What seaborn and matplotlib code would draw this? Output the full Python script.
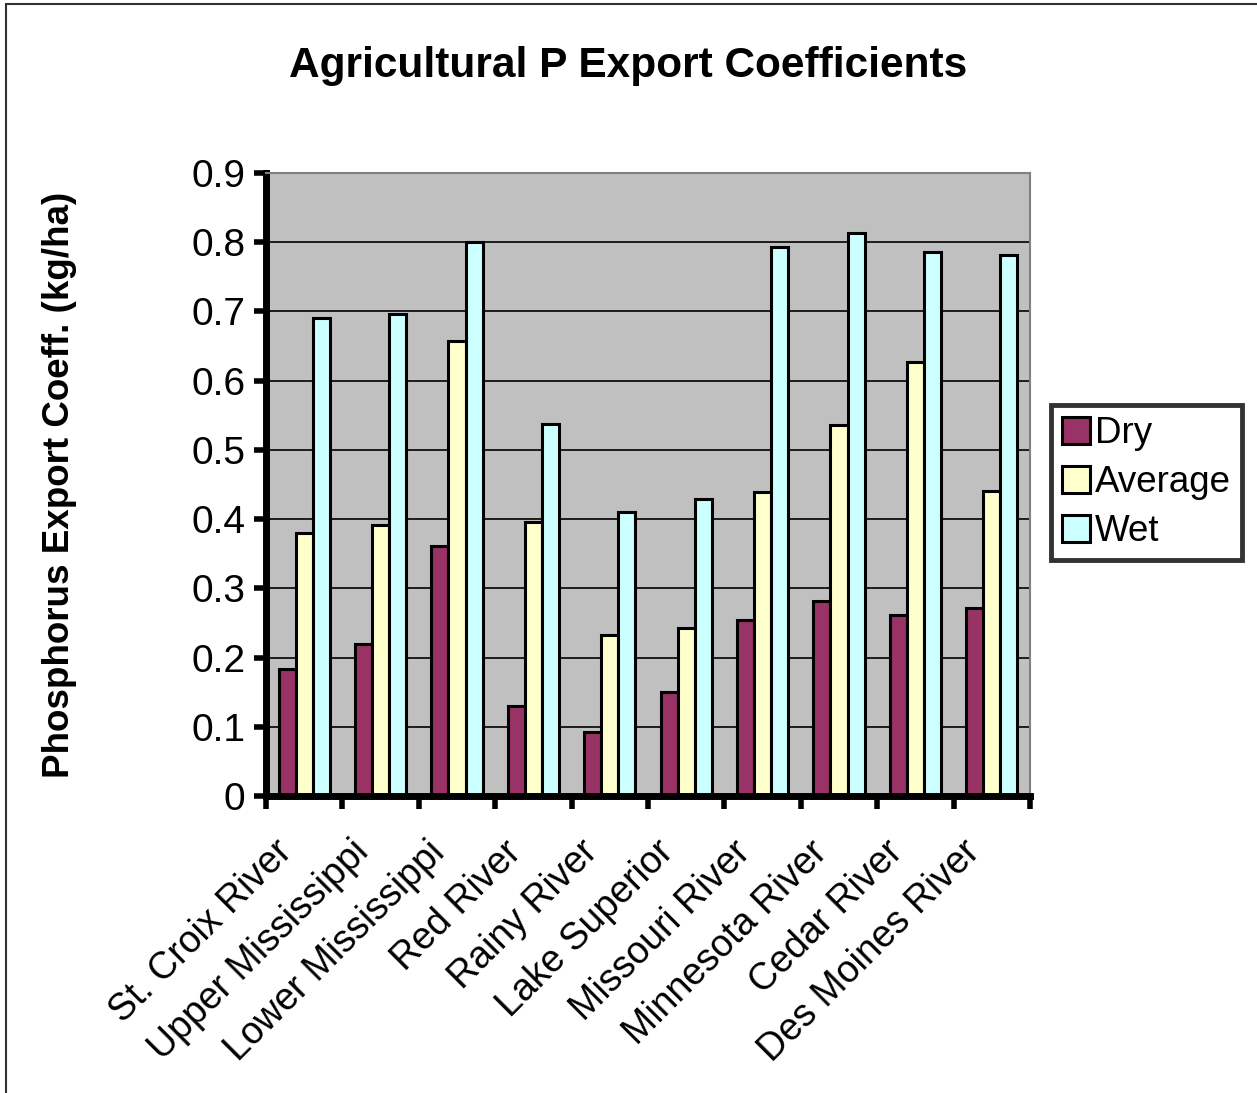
import pandas as pd
import seaborn as sns
import matplotlib.pyplot as plt
from matplotlib.lines import Line2D

# Data
rivers = ['St. Croix River', 'Upper Mississippi', 'Lower Mississippi', 'Red River',
          'Rainy River', 'Lake Superior', 'Missouri River', 'Minnesota River',
          'Cedar River', 'Des Moines River']
dry = [0.183, 0.220, 0.361, 0.130, 0.092, 0.150, 0.254, 0.282, 0.261, 0.272]
average = [0.380, 0.391, 0.657, 0.396, 0.233, 0.243, 0.439, 0.536, 0.627, 0.441]
wet = [0.690, 0.696, 0.801, 0.537, 0.411, 0.429, 0.793, 0.813, 0.786, 0.782]
conditions = ['Dry', 'Average', 'Wet']
y_ticks = [0, 0.1, 0.2, 0.3, 0.4, 0.5, 0.6, 0.7, 0.8, 0.9]
y_tick_labels = ['0', '0.1', '0.2', '0.3', '0.4', '0.5', '0.6', '0.7', '0.8', '0.9']

df = pd.DataFrame({
    'River': rivers * 3,
    'Condition': [c for c in conditions for _ in rivers],
    'Value': dry + average + wet,
})

sns.set_theme(style='white')
plt.rcParams['font.family'] = ['Liberation Sans', 'DejaVu Sans']
plt.rcParams['text.color'] = 'black'
plt.rcParams['axes.labelcolor'] = 'black'
plt.rcParams['xtick.color'] = 'black'
plt.rcParams['ytick.color'] = 'black'

fig = plt.figure(figsize=(12.57, 10.93), dpi=100)
ax = fig.add_axes([0.2116, 0.2717, 0.6078, 0.570])

palette = {'Dry': '#993366', 'Average': '#FFFFCC', 'Wet': '#CCFFFF'}
sns.barplot(data=df, x='River', y='Value', hue='Condition', palette=palette,
            edgecolor='black', linewidth=2.2, width=0.67, ax=ax, saturation=1)

ax.set_facecolor('#C0C0C0')
ax.set_ylim(0, 0.9)
ax.set_xlim(-0.5, len(rivers) - 0.5)
ax.set_yticks(y_ticks)
ax.set_yticklabels(y_tick_labels, fontsize=28, color='black')
ax.yaxis.grid(True, color='black', linewidth=1.2)
ax.set_axisbelow(True)

# x ticks at the group boundaries, labels at the group centres
ax.set_xticks([i - 0.5 for i in range(len(rivers) + 1)])
ax.set_xticklabels([])
ax.tick_params(axis='x', direction='out', length=9, width=4, color='black', bottom=True)
ax.tick_params(axis='y', direction='out', length=9, width=4, color='black', left=True, pad=6)
for i, name in enumerate(rivers):
    ax.text(i - 0.40, -0.055, name, rotation=45, ha='right', va='top',
            rotation_mode='anchor', fontsize=27, color='black', transform=ax.transData)

for side in ['left', 'bottom']:
    ax.spines[side].set_linewidth(5)
    ax.spines[side].set_color('black')
for side in ['top', 'right']:
    ax.spines[side].set_linewidth(1.5)
    ax.spines[side].set_color('#808080')

ax.set_xlabel('')
ax.set_ylabel('Phosphorus Export Coeff. (kg/ha)', fontsize=26.5, fontweight='bold')
ax.yaxis.set_label_coords(-0.247, 0.5)

fig.suptitle('Agricultural P Export Coefficients', fontsize=30.5, fontweight='bold',
             x=0.50, y=0.958, color='black')

ax.legend_.remove()
leg = fig.legend(*ax.get_legend_handles_labels(), loc='upper left',
                 bbox_to_anchor=(1051 / 1257, 1 - 405 / 1093), fontsize=26.5, frameon=True,
                 fancybox=False, edgecolor='black', handlelength=0.75, handleheight=0.75,
                 handletextpad=0.15, borderpad=0.3, labelspacing=0.38, borderaxespad=0)
leg.get_frame().set_linewidth(3.5)

# thin border on the left and top edges of the figure
fig.lines.append(Line2D([0.005, 0.005], [0, 0.996], transform=fig.transFigure,
                        color='#303030', linewidth=1.5))
fig.lines.append(Line2D([0.005, 1], [0.996, 0.996], transform=fig.transFigure,
                        color='#303030', linewidth=1.5))

fig.savefig('out.png', dpi=100)
